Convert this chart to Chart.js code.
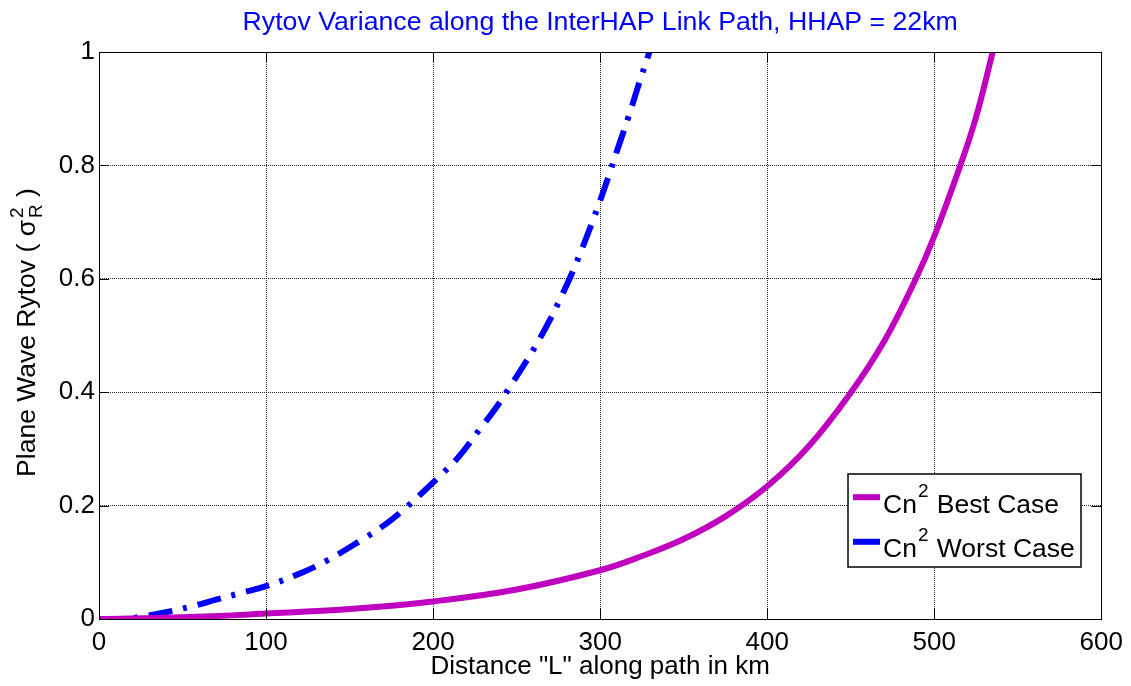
<!DOCTYPE html>
<html>
<head>
<meta charset="utf-8">
<script src="https://cdn.jsdelivr.net/npm/chart.js@4.4.1/dist/chart.umd.min.js"></script>
<style>
  html, body { margin: 0; padding: 0; background: #fff; }
  #wrap { width: 1131px; height: 686px; }
</style>
</head>
<body>
<div id="wrap"><canvas id="c" width="1131" height="686"></canvas></div>
<script>
// Path distance (km) and plane-wave Rytov variance for each Cn² profile
const bestDistance = [0, 50, 100, 150, 200, 250, 300, 325, 350, 375, 400, 425, 449, 470, 489, 500, 515, 525, 535];
const bestRytov    = [0, 0.003, 0.0095, 0.0175, 0.031, 0.052, 0.086, 0.111, 0.141, 0.181, 0.234, 0.305, 0.395, 0.49, 0.60, 0.675, 0.795, 0.885, 1.0];

const worstDistance = [0, 15, 25, 40, 55, 70, 85, 100, 120, 137, 157, 171, 182, 194, 204, 215, 228, 238, 245, 255, 262, 270, 276, 283, 289, 295, 300, 306, 310, 317, 323, 329.5];
const worstRytov    = [0, 0, 0.004, 0.012, 0.022, 0.034, 0.046, 0.058, 0.080, 0.104, 0.139, 0.166, 0.192, 0.224, 0.252, 0.285, 0.335, 0.374, 0.405, 0.451, 0.485, 0.528, 0.564, 0.609, 0.652, 0.698, 0.738, 0.789, 0.825, 0.886, 0.942, 1.0];

const xTicks = [0, 100, 200, 300, 400, 500, 600];
const yTicks = [0, 0.2, 0.4, 0.6, 0.8, 1];

const seriesLabels = ['Best Case', 'Worst Case'];
const titleText = 'Rytov Variance along the InterHAP Link Path, HHAP = 22km';
const xTitle = 'Distance "L" along path in km';

const FONT = '"Liberation Sans", Arial, Helvetica, sans-serif';
const MAGENTA = '#BF00BF';
const BLUE = '#0000FF';

function toPoints(xs, ys) { return xs.map((x, i) => ({ x: x, y: ys[i] })); }

// Title, y-axis label with sigma_R^2, inward ticks, frame and legend
const decorations = {
  id: 'decorations',
  afterDraw(chart) {
    const ctx = chart.ctx;
    const a = chart.chartArea;
    const xs = chart.scales.x, ys = chart.scales.y;
    ctx.save();

    // frame
    ctx.strokeStyle = '#000';
    ctx.lineWidth = 1;
    ctx.setLineDash([]);
    ctx.strokeRect(Math.round(a.left) + 0.5, Math.round(a.top) + 0.5,
                   Math.round(a.right - a.left), Math.round(a.bottom - a.top));

    // inward tick marks on all four sides
    const tl = 10;
    ctx.beginPath();
    xTicks.forEach(v => {
      const px = Math.round(xs.getPixelForValue(v)) + 0.5;
      ctx.moveTo(px, a.bottom); ctx.lineTo(px, a.bottom - tl);
      ctx.moveTo(px, a.top); ctx.lineTo(px, a.top + tl);
    });
    yTicks.forEach(v => {
      const py = Math.round(ys.getPixelForValue(v)) + 0.5;
      ctx.moveTo(a.left, py); ctx.lineTo(a.left + tl, py);
      ctx.moveTo(a.right, py); ctx.lineTo(a.right - tl, py);
    });
    ctx.stroke();

    // title
    ctx.fillStyle = BLUE;
    ctx.font = '26.7px ' + FONT;
    ctx.textAlign = 'center';
    ctx.textBaseline = 'alphabetic';
    ctx.fillText(titleText, (a.left + a.right) / 2, 30);

    // y-axis label: Plane Wave Rytov ( σ_R^2 )
    ctx.fillStyle = '#000';
    const big = '26.5px ' + FONT, small = '19px ' + FONT;
    const part1 = 'Plane Wave Rytov ( \u03C3';
    const part3 = ' )';
    ctx.font = big;
    const w1 = ctx.measureText(part1).width;
    const w3 = ctx.measureText(part3).width;
    ctx.font = small;
    const wSup = ctx.measureText('2').width;
    const wSub = ctx.measureText('R').width;
    const wMid = Math.max(wSup, wSub) + 2;
    const total = w1 + wMid + w3;
    const cy = (a.top + a.bottom) / 2 - 3;
    ctx.translate(35, cy + total / 2);
    ctx.rotate(-Math.PI / 2);
    ctx.textAlign = 'left';
    ctx.font = big;
    ctx.fillText(part1, 0, 0);
    ctx.font = small;
    ctx.fillText('2', w1 + 2, -12);
    ctx.fillText('R', w1 + 2, 7);
    ctx.font = big;
    ctx.fillText(part3, w1 + wMid, 0);
    ctx.setTransform(1, 0, 0, 1, 0, 0);

    // legend
    const lx = 848, ly = 474, lw = 233, lh = 93;
    ctx.fillStyle = '#fff';
    ctx.fillRect(lx, ly, lw, lh);
    ctx.strokeStyle = '#000';
    ctx.lineWidth = 1.5;
    ctx.strokeRect(lx, ly, lw, lh);
    const rows = [
      { color: MAGENTA, label: seriesLabels[0], y: 512.7 },
      { color: BLUE, label: seriesLabels[1], y: 557.3 }
    ];
    rows.forEach(r => {
      ctx.strokeStyle = r.color;
      ctx.lineWidth = 6;
      ctx.lineCap = 'butt';
      ctx.beginPath();
      ctx.moveTo(853, r.y - 15.5);
      ctx.lineTo(880, r.y - 15.5);
      ctx.stroke();
      ctx.fillStyle = '#000';
      ctx.textAlign = 'left';
      ctx.font = big;
      let x = 883;
      ctx.fillText('Cn', x, r.y);
      x += ctx.measureText('Cn').width + 1;
      ctx.font = small;
      ctx.fillText('2', x, r.y - 16);
      x += ctx.measureText('2').width;
      ctx.font = big;
      x += ctx.measureText(' ').width + 1;
      ctx.fillText(r.label, x, r.y);
    });
    ctx.restore();
  }
};

const gridOpts = { color: 'rgba(0,0,0,0.85)', lineWidth: 1, drawTicks: false };
const borderOpts = { display: true, color: '#000', dash: [1, 1] };

new Chart(document.getElementById('c'), {
  type: 'line',
  data: {
    datasets: [
      {
        label: 'Cn\u00B2 ' + seriesLabels[0],
        data: toPoints(bestDistance, bestRytov),
        borderColor: MAGENTA,
        borderWidth: 6,
        pointRadius: 0,
        tension: 0.4,
        fill: false
      },
      {
        label: 'Cn\u00B2 ' + seriesLabels[1],
        data: toPoints(worstDistance, worstRytov),
        borderColor: BLUE,
        borderWidth: 6,
        borderDash: [24, 11, 4, 11],
        borderCapStyle: 'butt',
        pointRadius: 0,
        tension: 0.4,
        fill: false
      }
    ]
  },
  options: {
    responsive: false,
    animation: false,
    devicePixelRatio: 1,
    layout: { padding: { top: 52, right: 29, left: 0, bottom: 0 } },
    plugins: {
      legend: { display: false },
      title: { display: false },
      tooltip: { enabled: false }
    },
    scales: {
      x: {
        type: 'linear',
        min: 0, max: 600,
        afterBuildTicks: s => { s.ticks = xTicks.map(v => ({ value: v })); },
        afterFit: s => { s.height = 67; },
        grid: gridOpts,
        border: borderOpts,
        ticks: {
          color: '#000', padding: 8,
          font: { family: FONT, size: 26 },
          callback: v => String(v)
        },
        title: {
          display: true, text: xTitle, color: '#000',
          font: { family: FONT, size: 26 },
          padding: { top: 0, bottom: 4 }
        }
      },
      y: {
        type: 'linear',
        min: 0, max: 1,
        afterBuildTicks: s => { s.ticks = yTicks.map(v => ({ value: v })); },
        afterFit: s => { s.width = 99; },
        grid: gridOpts,
        border: borderOpts,
        ticks: {
          color: '#000', padding: 4,
          font: { family: FONT, size: 26 },
          callback: v => String(Math.round(v * 10) / 10)
        }
      }
    }
  },
  plugins: [decorations]
});
</script>
</body>
</html>
